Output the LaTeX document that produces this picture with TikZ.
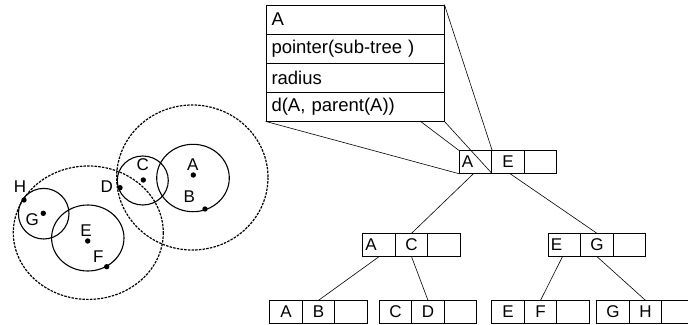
\documentclass[tikz,border=0pt]{standalone}
\usepackage{fontspec}
\setmainfont{Liberation Sans}
\begin{document}
\begin{tikzpicture}[x=1pt,y=-1pt,
  lbl/.style={inner sep=0pt, font=\fontsize{17}{18}\selectfont},
  cell/.style={draw, line width=0.8pt, minimum width=32.5pt, minimum height=22.5pt, inner sep=0pt, font=\fontsize{17}{18}\selectfont},
  lcell/.style={cell, text width=27.5pt, inner xsep=2.5pt, align=left},
  rec/.style={draw, line width=0.8pt, minimum height=29pt, text width=167pt, inner xsep=5.5pt, inner ysep=0pt, align=left, font=\fontsize{18.5}{19}\selectfont},
  edge/.style={line width=0.6pt},
  solidc/.style={line width=1.1pt},
  dashc/.style={line width=1.2pt, dash pattern=on 2.5pt off 1.2pt},
  dot/.style={fill=black}]
\useasboundingbox (0,0) rectangle (688,324);

% ---- left: circles ----
\draw[dashc] (192.3,177.5) ellipse [x radius=75.7, y radius=72.5];
\draw[dashc] (88.3,232.7) ellipse [x radius=75, y radius=66.7];
\draw[solidc] (193,178) ellipse [x radius=36.3, y radius=33.7];
\draw[solidc] (142.8,180.5) ellipse [x radius=25.5, y radius=24.5];
\draw[solidc] (43.7,213.7) ellipse [x radius=25.3, y radius=25.3];
\draw[solidc] (87.8,238) ellipse [x radius=36.2, y radius=33];
\foreach \p in {(193.3,175),(205,209),(143.3,180),(120,187.7),(24,200),(43.3,213.3),(87.7,241),(106.7,266.7)}
  \fill \p circle [radius=2.7];
\node[lbl] (lA) at (192.7,165) {A};
\node[lbl] (lB) at (189.3,196.7) {B};
\node[lbl] (lC) at (142.7,165) {C};
\node[lbl] (lD) at (106.7,186.7) {D};
\node[lbl] (lH) at (20,186.7) {H};
\node[lbl] (lG) at (32.3,220) {G};
\node[lbl] (lE) at (86,230.7) {E};
\node[lbl] (lF) at (98.3,256.7) {F};

% ---- record ----
\node[rec] (r1) at (355,19.5) {A};
\node[rec] (r2) at (355,48.5) {pointer(sub-tree )};
\node[rec] (r3) at (355,77.5) {radius};
\node[rec] (r4) at (355,106.5) {d(A, parent(A))};
\coordinate (rm) at (420,121);

% ---- tree ----
\node[lcell] (rA) at (475.5,162) {A};
\node[cell]  (rE) at (508,162) {E};
\node[cell]  (rX) at (540.5,162) {};

\node[lcell] (acA) at (379,245) {A};
\node[cell]  (acC) at (411.5,245) {C};
\node[cell]  (acX) at (444,245) {};

\node[lcell] (egE) at (564.5,245) {E};
\node[cell]  (egG) at (597,245) {G};
\node[cell]  (egX) at (629.5,245) {};

\node[cell] (abA) at (286,312) {A};
\node[cell] (abB) at (318.5,312) {B};
\node[cell] (abX) at (351,312) {};

\node[cell] (cdC) at (395.5,312) {C};
\node[cell] (cdD) at (428,312) {D};
\node[cell] (cdX) at (460.5,312) {};

\node[cell] (efE) at (508,312) {E};
\node[cell] (efF) at (540.5,312) {F};
\node[cell] (efX) at (573,312) {};

\node[cell] (ghG) at (613,312) {G};
\node[cell] (ghH) at (645.5,312) {H};
\node[cell] (ghX) at (678,312) {};

% record to root
\draw[edge] (r4.south west) -- (rA.south west);
\draw[edge] (rm) -- (rA.north west);
\draw[edge] (r4.south east) -- (rA.south east);
\draw[edge] (r1.north east) -- (rA.north east);

% tree edges
\draw[edge] (rA.south) ++(-2,0) -- (acC.north);
\draw[edge] (rE.south) ++(2,0) -- (egG.north);
\draw[edge] (acA.south) -- (abB.north);
\draw[edge] (acC.south) -- (cdD.north);
\draw[edge] (egE.south) ++(-2,0) -- (efF.north);
\draw[edge] (egG.south) -- (ghH.north);
\end{tikzpicture}
\end{document}
